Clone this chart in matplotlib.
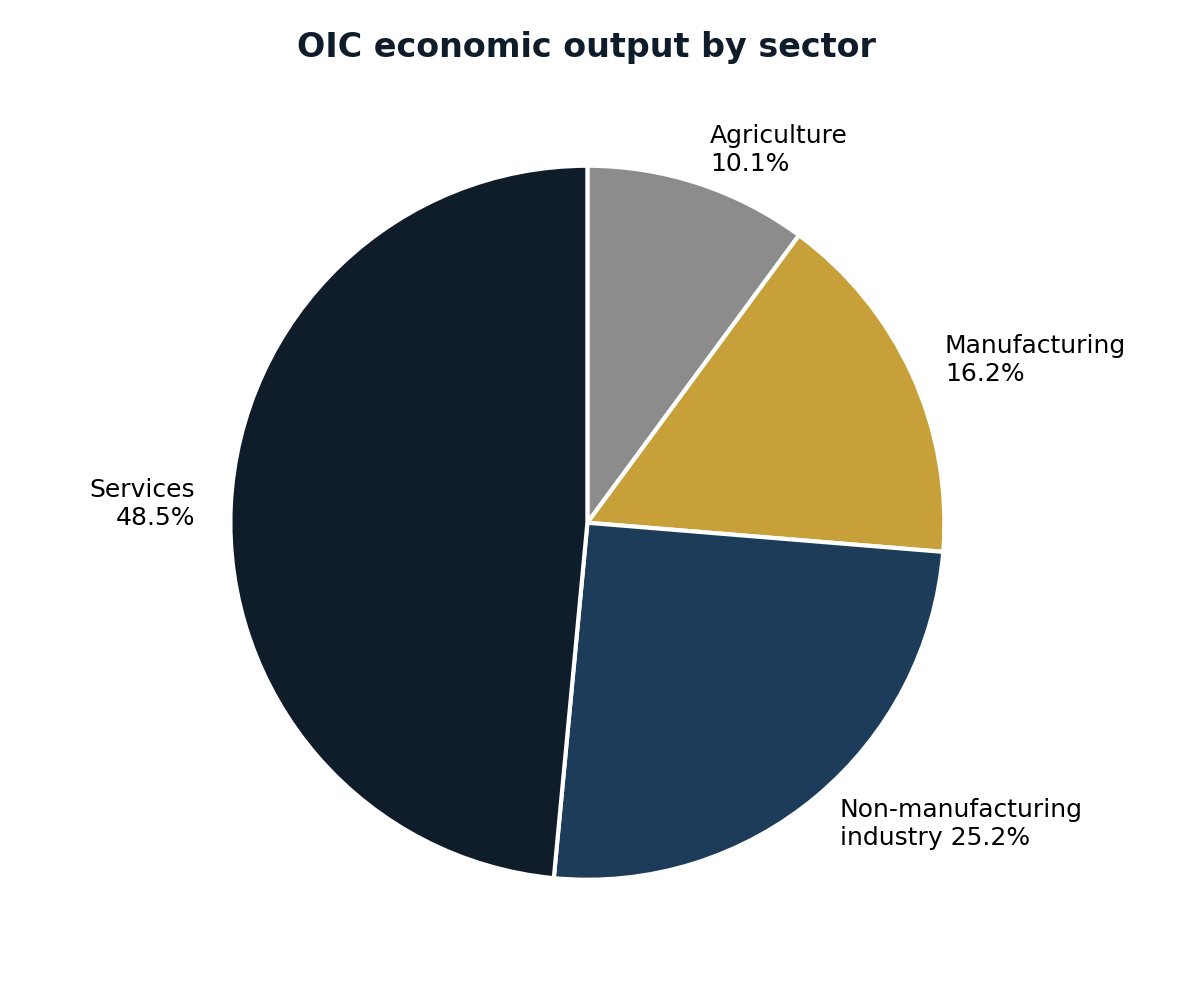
import matplotlib
matplotlib.use("Agg")
import matplotlib.pyplot as plt

sectors = ["Agriculture", "Manufacturing", "Non-manufacturing\nindustry", "Services"]
shares = [10.1, 16.2, 25.2, 48.5]
colors = ["#8c8c8c", "#c8a03a", "#1d3c5a", "#0f1c2a"]

labels = []
for name, v in zip(sectors, shares):
    if "\n" in name:
        labels.append(f"{name} {v:.1f}%")
    else:
        labels.append(f"{name}\n{v:.1f}%")

fig = plt.figure(figsize=(6, 5), dpi=200)
ax = fig.add_axes([0.1175, 0.031, 0.744, 0.8925])

ax.pie(
    shares,
    labels=labels,
    colors=colors,
    startangle=90,
    counterclock=False,
    labeldistance=1.1,
    wedgeprops=dict(edgecolor="white", linewidth=1.5),
    textprops=dict(fontsize=9, color="black"),
)
ax.set_aspect("equal")

fig.text(0.489, 0.952, "OIC economic output by sector", ha="center", va="center",
         fontsize=12, fontweight="bold", color="#0f1c2a")

fig.savefig("out.png", dpi=200)
